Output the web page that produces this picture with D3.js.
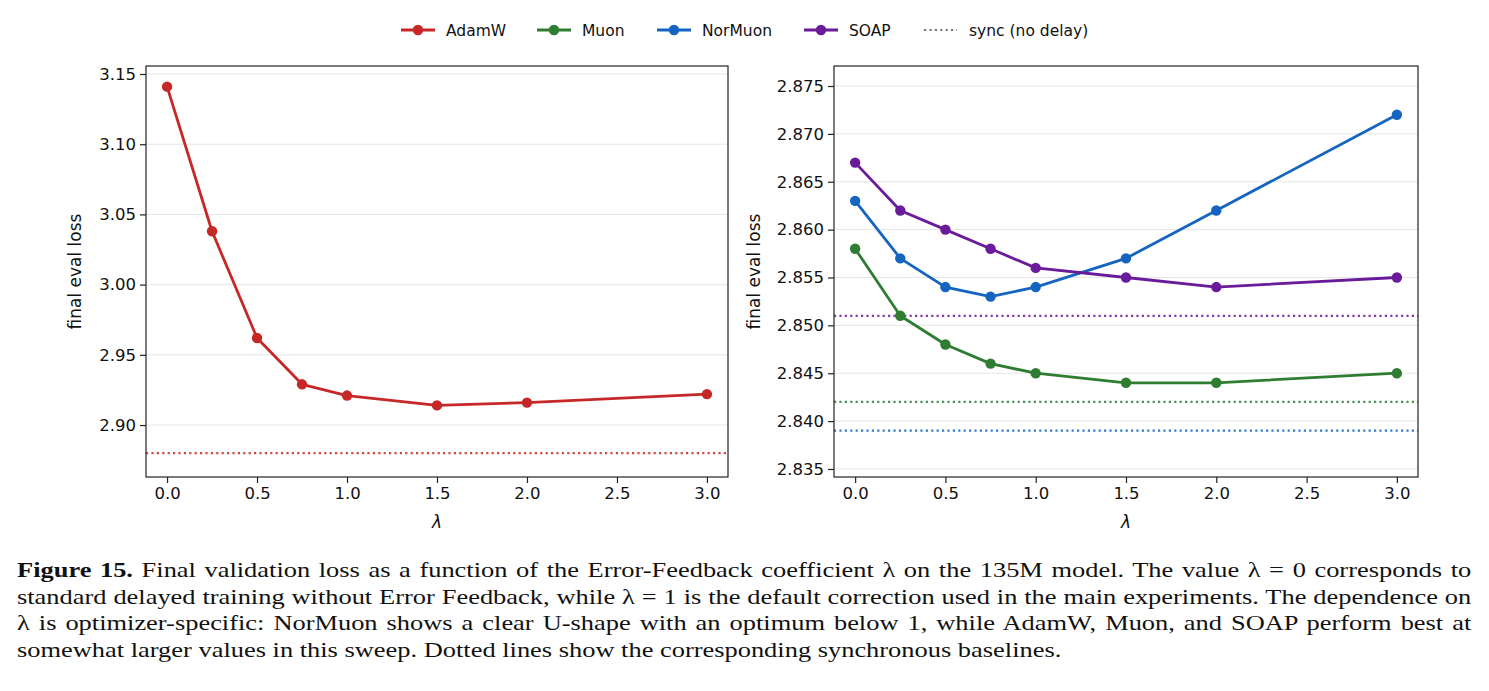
<!DOCTYPE html>
<html>
<head>
<meta charset="utf-8">
<script src="https://cdn.jsdelivr.net/npm/d3@7/dist/d3.min.js"></script>
<style>
  body { margin: 0; background: #fff; }
  #wrap { position: relative; width: 1489px; height: 691px; overflow: hidden; }
  #chart { position: absolute; left: 0; top: 0; }
  #caption {
    position: absolute; left: 17px; top: 557px; width: 1156px;
    transform: scaleX(1.258); transform-origin: 0 0;
    font-family: "Liberation Serif", "Times New Roman", serif;
    font-size: 21px; line-height: 26.5px; text-align: justify; color: #111;
  }
</style>
</head>
<body>
<div id="wrap">
  <svg id="chart" width="1489" height="555"></svg>
  <div id="caption"><b>Figure 15.</b> Final validation loss as a function of the Error-Feedback coefficient λ on the 135M model. The value λ = 0 corresponds to standard delayed training without Error Feedback, while λ = 1 is the default correction used in the main experiments. The dependence on λ is optimizer-specific: NorMuon shows a clear U-shape with an optimum below 1, while AdamW, Muon, and SOAP perform best at somewhat larger values in this sweep. Dotted lines show the corresponding synchronous baselines.</div>
</div>
<script>
// lambda values swept
var lambdas = [0, 0.25, 0.5, 0.75, 1.0, 1.5, 2.0, 3.0];

// final eval loss per optimizer
var adamw   = [3.141, 3.038, 2.962, 2.929, 2.921, 2.914, 2.916, 2.922];
var muon    = [2.858, 2.851, 2.848, 2.846, 2.845, 2.844, 2.844, 2.845];
var normuon = [2.863, 2.857, 2.854, 2.853, 2.854, 2.857, 2.862, 2.872];
var soap    = [2.867, 2.862, 2.860, 2.858, 2.856, 2.855, 2.854, 2.855];

// synchronous baselines (no delay)
var syncLoss = { AdamW: 2.880, Muon: 2.842, NorMuon: 2.839, SOAP: 2.851 };

var xTicks = [0, 0.5, 1.0, 1.5, 2.0, 2.5, 3.0];
var leftTicks = [2.90, 2.95, 3.00, 3.05, 3.10, 3.15];
var rightTicks = [2.835, 2.840, 2.845, 2.850, 2.855, 2.860, 2.865, 2.870, 2.875];

var colors = { AdamW: "#c62828", Muon: "#2e7d32", NorMuon: "#1565c0", SOAP: "#6a1b9a" };

var svg = d3.select("#chart");
var font = "DejaVu Sans, sans-serif";

function drawPanel(opts) {
  var x = d3.scaleLinear().domain([-0.117, 3.117]).range([opts.x0, opts.x1]);
  var y = d3.scaleLinear().domain(opts.yDomain).range([opts.y1, opts.y0]);
  var g = svg.append("g");

  // horizontal grid
  g.selectAll(".grid")
    .data(opts.yTicks)
    .enter()
    .append("line")
    .attr("x1", opts.x0).attr("x2", opts.x1)
    .attr("y1", function (d) { return y(d); })
    .attr("y2", function (d) { return y(d); })
    .attr("stroke", "#e6e6e6").attr("stroke-width", 1);

  // sync baselines
  opts.series.forEach(function (s) {
    g.append("line")
      .attr("x1", opts.x0).attr("x2", opts.x1)
      .attr("y1", y(syncLoss[s.name])).attr("y2", y(syncLoss[s.name]))
      .attr("stroke", colors[s.name]).attr("stroke-opacity", 0.85)
      .attr("stroke-width", 2.2).attr("stroke-dasharray", "2.2,3.2");
  });

  var line = d3.line()
    .x(function (d, i) { return x(lambdas[i]); })
    .y(function (d) { return y(d); });

  opts.series.forEach(function (s) {
    g.append("path")
      .datum(s.values)
      .attr("d", line)
      .attr("fill", "none")
      .attr("stroke", colors[s.name])
      .attr("stroke-width", 2.8)
      .attr("stroke-linejoin", "round");
    g.selectAll(".pt-" + s.name)
      .data(s.values)
      .enter()
      .append("circle")
      .attr("cx", function (d, i) { return x(lambdas[i]); })
      .attr("cy", function (d) { return y(d); })
      .attr("r", 5.2)
      .attr("fill", colors[s.name]);
  });

  // axes
  var yAxis = g.append("g")
    .attr("transform", "translate(" + opts.x0 + ",0)")
    .call(d3.axisLeft(y).tickValues(opts.yTicks).tickFormat(d3.format(opts.fmt)).tickSizeOuter(0).tickSize(6).tickPadding(4));
  var xAxis = g.append("g")
    .attr("transform", "translate(0," + opts.y1 + ")")
    .call(d3.axisBottom(x).tickValues(xTicks).tickFormat(d3.format(".1f")).tickSizeOuter(0).tickSize(6).tickPadding(4));
  [yAxis, xAxis].forEach(function (a) {
    a.select(".domain").remove();
    a.selectAll("line").attr("stroke", "#222").attr("stroke-width", 1.2);
    a.selectAll("text").attr("font-family", font).attr("font-size", 16.5).attr("fill", "#111");
  });

  // frame
  g.append("rect")
    .attr("x", opts.x0).attr("y", opts.y0)
    .attr("width", opts.x1 - opts.x0).attr("height", opts.y1 - opts.y0)
    .attr("fill", "none").attr("stroke", "#222").attr("stroke-width", 1.2);

  // labels
  g.append("text")
    .attr("transform", "translate(" + opts.ylabelX + "," + ((opts.y0 + opts.y1) / 2) + ") rotate(-90)")
    .attr("text-anchor", "middle")
    .attr("font-family", font).attr("font-size", 17).attr("fill", "#111")
    .text("final eval loss");
  g.append("text")
    .attr("x", (opts.x0 + opts.x1) / 2).attr("y", 528)
    .attr("text-anchor", "middle")
    .attr("font-family", font).attr("font-size", 17).attr("font-style", "italic").attr("fill", "#111")
    .text("λ");
}

drawPanel({
  x0: 146, x1: 728, y0: 66, y1: 477,
  yDomain: [2.863, 3.1557], yTicks: leftTicks, fmt: ".2f", ylabelX: 81,
  series: [{ name: "AdamW", values: adamw }]
});

drawPanel({
  x0: 834, x1: 1418, y0: 66, y1: 477,
  yDomain: [2.83416, 2.87709], yTicks: rightTicks, fmt: ".3f", ylabelX: 760,
  series: [
    { name: "Muon", values: muon },
    { name: "NorMuon", values: normuon },
    { name: "SOAP", values: soap }
  ]
});

// legend
var legendItems = [
  { name: "AdamW", x: 401 },
  { name: "Muon", x: 537 },
  { name: "NorMuon", x: 657 },
  { name: "SOAP", x: 804 },
  { name: "sync (no delay)", x: 924, sync: true }
];
var legend = svg.append("g");
legendItems.forEach(function (d) {
  var item = legend.append("g").attr("transform", "translate(" + d.x + ",30)");
  if (d.sync) {
    item.append("line").attr("x1", 0).attr("x2", 33)
      .attr("stroke", "#777").attr("stroke-width", 2.2).attr("stroke-dasharray", "2.2,3.2");
  } else {
    item.append("line").attr("x1", 0).attr("x2", 34)
      .attr("stroke", colors[d.name]).attr("stroke-width", 2.8);
    item.append("circle").attr("cx", 17).attr("r", 5.2).attr("fill", colors[d.name]);
  }
  item.append("text").attr("x", 45).attr("y", 5.5)
    .attr("font-family", font).attr("font-size", 15.5).attr("fill", "#111")
    .text(d.name);
});
</script>
</body>
</html>
